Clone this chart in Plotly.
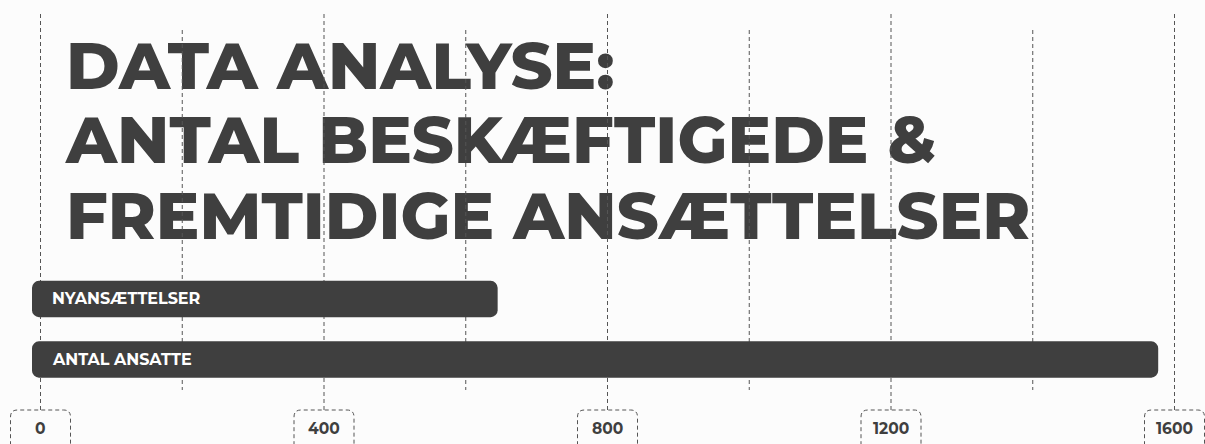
import plotly.graph_objects as go

# ---- data ----
categories = ["ANTAL ANSATTE", "NYANSÆTTELSER"]
values = [1589, 657]
major_ticks = [0, 400, 800, 1200, 1600]
minor_ticks = [200, 600, 1000, 1400]
tick_labels = ["0", "400", "800", "1200", "1600"]
title_lines = ["DATA ANALYSE:", "ANTAL BESKÆFTIGEDE &", "FREMTIDIGE ANSÆTTELSER"]

# ---- style ----
W, H = 1205, 444
DARK = "#3f3f3f"
GRID = "#555555"
BG = "#fcfcfc"
PX_PER_UNIT = 0.70875
X0_PX = 40.5          # pixel of value 0 on the grid axis
BAR0_PX = 32.0        # pixel of value 0 on the bar axis
FONT = "Montserrat, 'Open Sans', Lato, sans-serif"
RADIUS = 7

x_range = [-X0_PX / PX_PER_UNIT, (W - X0_PX) / PX_PER_UNIT]
x2_range = [-BAR0_PX / PX_PER_UNIT, (W - BAR0_PX) / PX_PER_UNIT]

def py(px_from_top):
    return 1 - px_from_top / H

fig = go.Figure()

# title as text trace (so gridlines are drawn over it)
fig.add_trace(go.Scatter(
    x=[36] * len(title_lines),
    y=[py(73), py(147), py(222.5)],
    text=title_lines,
    mode="text",
    textposition="middle right",
    textfont=dict(family=FONT, size=65, color=DARK, weight=800),
    hoverinfo="skip", showlegend=False, xaxis="x", yaxis="y",
))

# gridlines
def seg(ticks, top, bottom):
    xs, ys = [], []
    for t in ticks:
        xs += [t, t, None]
        ys += [py(top), py(bottom), None]
    return xs, ys

for ticks, top, bottom in [(major_ticks, 14, 410), (minor_ticks, 30, 390)]:
    xs, ys = seg(ticks, top, bottom)
    fig.add_trace(go.Scatter(
        x=xs, y=ys, mode="lines",
        line=dict(color=GRID, width=1, dash="4px,3px"),
        hoverinfo="skip", showlegend=False, xaxis="x", yaxis="y",
    ))

# bars (explicit base -> both ends rounded)
fig.add_trace(go.Bar(
    y=categories, x=values, base=[0] * len(values),
    orientation="h",
    marker=dict(color=DARK, line=dict(width=0), cornerradius=RADIUS),
    width=0.6, xaxis="x2", yaxis="y2", showlegend=False, hoverinfo="skip",
))

annotations = []
for c in categories:
    annotations.append(dict(
        x=0, y=c, xref="x2", yref="y2", text=c, showarrow=False,
        xanchor="left", yanchor="middle", xshift=18,
        font=dict(family=FONT, size=16, color="white", weight=700),
    ))

shapes = []
half_w = 30 / PX_PER_UNIT
rx = 7 / PX_PER_UNIT
ry = 7 / H
yt = py(410)
yb = -0.05
for t, lab in zip(major_ticks, tick_labels):
    x0, x1 = t - half_w, t + half_w
    path = (f"M {x0},{yb} L {x0},{yt - ry} Q {x0},{yt} {x0 + rx},{yt} "
            f"L {x1 - rx},{yt} Q {x1},{yt} {x1},{yt - ry} L {x1},{yb}")
    shapes.append(dict(type="path", path=path, xref="x", yref="paper",
                       line=dict(color=GRID, width=1, dash="4px,3px")))
    annotations.append(dict(
        x=t, y=py(428.5), xref="x", yref="paper", text=lab, showarrow=False,
        xanchor="center", yanchor="middle",
        font=dict(family=FONT, size=15.5, color=DARK, weight=700),
    ))

hidden = dict(showgrid=False, zeroline=False, showticklabels=False,
              ticks="", showline=False, fixedrange=True)

fig.update_layout(
    width=W, height=H,
    margin=dict(l=0, r=0, t=0, b=0),
    paper_bgcolor=BG, plot_bgcolor=BG,
    xaxis=dict(range=x_range, **hidden),
    yaxis=dict(range=[0, 1], **hidden),
    xaxis2=dict(range=x2_range, overlaying="x", **hidden),
    yaxis2=dict(range=[-1.397, 5.942], overlaying="y", type="category",
                categoryorder="array", categoryarray=categories, **hidden),
    shapes=shapes,
    annotations=annotations,
    showlegend=False,
)

fig.write_html(
    "out.html",
    config={"displayModeBar": False},
    post_script="document.body.style.margin='0';document.body.style.background='#fcfcfc';",
)
